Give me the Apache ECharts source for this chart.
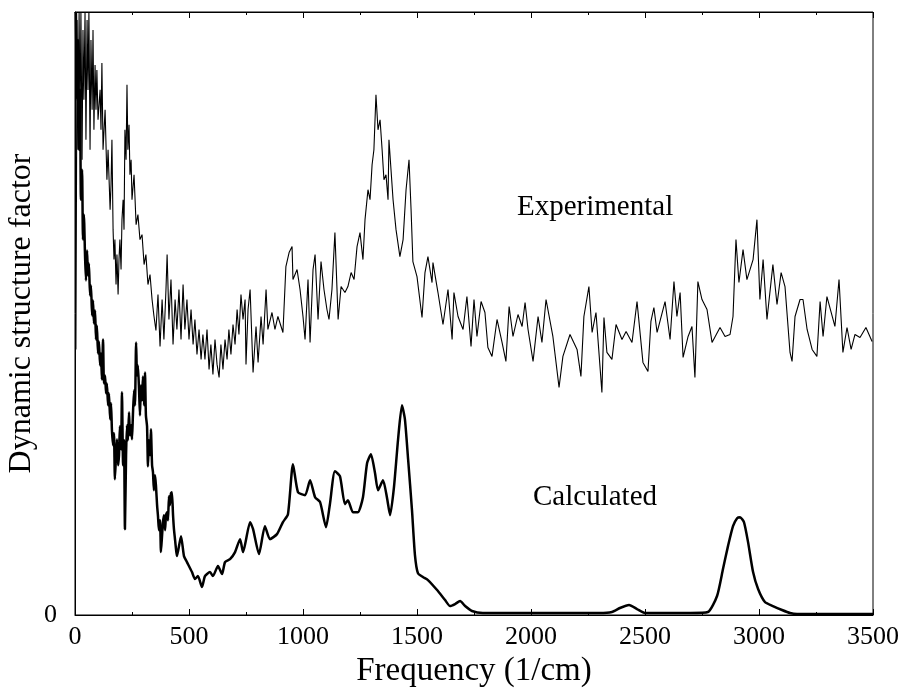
<!DOCTYPE html>
<html>
<head>
<meta charset="utf-8">
<script src="https://cdn.jsdelivr.net/npm/echarts@6/dist/echarts.min.js"></script>
<style>
  html, body { margin: 0; padding: 0; background: #fff; }
  #chart { width: 906px; height: 695px; }
</style>
</head>
<body>
<div id="chart"></div>
<script>
// frequency (1/cm), intensity (arbitrary units, 0 = baseline)
var experimental = [
  [4, 266], [9, 596], [13, 466], [18, 604], [22, 496], [26, 604], [31, 456], [35, 586],
  [39, 516], [44, 604], [48, 476], [53, 596], [57, 526], [61, 604], [66, 466], [70, 576],
  [75, 506], [79, 586], [83, 486], [88, 551], [92, 506], [96, 546], [101, 496], [110, 526],
  [114, 486], [118, 553], [123, 466], [132, 506], [140, 436], [145, 466], [154, 406], [158, 431],
  [162, 476], [167, 386], [171, 356], [175, 376], [180, 331], [184, 361], [189, 321], [193, 356],
  [197, 376], [202, 346], [206, 396], [211, 416], [215, 386], [219, 486], [224, 456], [228, 531],
  [232, 466], [237, 491], [241, 441], [246, 456], [250, 416], [259, 441], [268, 391], [276, 401],
  [285, 376], [294, 381], [303, 351], [311, 361], [320, 331], [329, 341], [338, 316], [346, 300],
  [355, 285], [364, 321], [373, 269], [382, 316], [390, 276], [399, 326], [404, 361], [412, 296],
  [421, 336], [430, 271], [439, 316], [447, 286], [456, 326], [465, 276], [474, 331], [482, 286],
  [491, 316], [500, 276], [509, 306], [518, 271], [526, 296], [535, 261], [544, 286], [553, 256],
  [561, 281], [570, 256], [579, 286], [588, 246], [596, 271], [605, 241], [614, 276], [623, 251],
  [632, 238], [640, 271], [649, 246], [658, 276], [667, 256], [675, 286], [684, 261], [693, 291],
  [702, 271], [711, 306], [719, 281], [728, 321], [737, 296], [746, 316], [750, 251], [759, 306],
  [768, 326], [781, 243], [794, 289], [803, 253], [816, 299], [825, 271], [838, 326], [846, 286],
  [864, 303], [877, 286], [890, 299], [908, 286], [912, 283], [925, 349], [939, 363], [952, 369],
  [956, 336], [974, 346], [987, 326], [1000, 299], [1009, 276], [1022, 336], [1031, 273], [1044, 346],
  [1053, 361], [1066, 296], [1079, 354], [1092, 326], [1105, 306], [1114, 296], [1127, 326], [1140, 383],
  [1154, 296], [1167, 329], [1184, 323], [1197, 329], [1211, 343], [1224, 336], [1237, 369], [1250, 383],
  [1263, 356], [1272, 396], [1285, 426], [1294, 416], [1303, 451], [1311, 466], [1320, 521], [1329, 486],
  [1338, 496], [1347, 466], [1355, 436], [1364, 441], [1373, 416], [1377, 476], [1386, 446], [1395, 416],
  [1408, 386], [1425, 359], [1439, 376], [1452, 426], [1465, 456], [1474, 406], [1482, 354], [1500, 339],
  [1522, 298], [1535, 343], [1548, 359], [1566, 333], [1570, 353], [1592, 323], [1614, 291], [1636, 326],
  [1654, 276], [1662, 323], [1680, 299], [1702, 286], [1719, 319], [1737, 269], [1750, 316], [1763, 279],
  [1781, 314], [1798, 303], [1811, 268], [1829, 259], [1851, 296], [1873, 273], [1890, 254], [1904, 309],
  [1921, 279], [1943, 301], [1961, 289], [1974, 313], [1987, 286], [2009, 254], [2031, 299], [2048, 273],
  [2066, 316], [2096, 279], [2123, 228], [2140, 259], [2171, 281], [2202, 266], [2219, 239], [2232, 299],
  [2254, 329], [2268, 283], [2285, 303], [2311, 223], [2320, 298], [2333, 263], [2355, 256], [2373, 291],
  [2399, 276], [2417, 284], [2443, 273], [2465, 314], [2491, 253], [2513, 244], [2526, 294], [2539, 308],
  [2553, 283], [2588, 314], [2610, 276], [2627, 334], [2640, 299], [2654, 323], [2667, 258], [2689, 279],
  [2706, 289], [2719, 238], [2732, 334], [2750, 316], [2772, 306], [2794, 273], [2829, 288], [2851, 279],
  [2873, 281], [2886, 299], [2899, 376], [2912, 333], [2930, 366], [2947, 336], [2974, 356], [2991, 396],
  [3004, 316], [3018, 356], [3035, 296], [3061, 351], [3079, 311], [3097, 343], [3114, 329], [3136, 263],
  [3145, 254], [3158, 299], [3180, 316], [3193, 316], [3211, 286], [3233, 266], [3254, 259], [3268, 314],
  [3281, 279], [3298, 319], [3333, 289], [3351, 336], [3368, 263], [3386, 288], [3404, 266], [3421, 281],
  [3443, 278], [3469, 288], [3496, 274]
];

var calculated = [
  [4, 604], [9, 516], [13, 576], [18, 466], [22, 526], [26, 416], [31, 446], [35, 376],
  [39, 401], [44, 360], [48, 335], [53, 365], [57, 340], [61, 352], [66, 320], [70, 330],
  [75, 300], [79, 315], [83, 292], [88, 305], [92, 276], [96, 290], [101, 262], [105, 274],
  [110, 250], [114, 262], [118, 236], [123, 276], [127, 232], [132, 240], [136, 222], [140, 232],
  [145, 210], [149, 222], [154, 196], [158, 212], [162, 185], [167, 170], [171, 182], [175, 136],
  [180, 160], [184, 176], [189, 150], [193, 160], [197, 189], [202, 166], [206, 223], [211, 150],
  [215, 175], [219, 86], [224, 160], [228, 190], [232, 175], [237, 203], [241, 180], [246, 190],
  [250, 176], [254, 200], [259, 225], [263, 210], [268, 273], [272, 240], [276, 250], [281, 225],
  [285, 200], [289, 230], [294, 215], [298, 239], [303, 210], [307, 243], [311, 200], [316, 189],
  [320, 149], [324, 175], [329, 160], [333, 186], [338, 150], [342, 143], [346, 125], [351, 140],
  [355, 130], [360, 110], [364, 99], [368, 85], [373, 95], [377, 63], [382, 80], [386, 93],
  [390, 100], [395, 85], [399, 100], [404, 103], [408, 95], [412, 119], [416, 110], [421, 122],
  [425, 123], [430, 100], [434, 86], [439, 75], [443, 66], [447, 59], [465, 79], [478, 59],
  [491, 53], [513, 43], [526, 36], [539, 39], [557, 28], [570, 39], [592, 43], [605, 39],
  [627, 49], [645, 41], [658, 53], [680, 56], [702, 63], [724, 76], [737, 63], [768, 93],
  [781, 86], [807, 61], [833, 89], [855, 76], [886, 81], [912, 93], [934, 101], [956, 151],
  [978, 123], [1009, 120], [1031, 135], [1053, 118], [1075, 113], [1101, 88], [1118, 111], [1140, 144],
  [1162, 139], [1184, 111], [1197, 115], [1219, 103], [1241, 103], [1263, 118], [1281, 152], [1298, 161],
  [1316, 142], [1329, 125], [1351, 135], [1368, 118], [1382, 100], [1399, 128], [1417, 176], [1434, 210],
  [1447, 196], [1461, 156], [1478, 105], [1491, 60], [1504, 42], [1526, 38], [1548, 35], [1588, 25],
  [1623, 15], [1645, 9], [1667, 11], [1689, 14], [1711, 9], [1741, 4], [1789, 2], [2000, 2],
  [2300, 2], [2355, 3], [2390, 7], [2430, 10], [2465, 6], [2500, 2], [2700, 2], [2776, 3],
  [2816, 19], [2842, 46], [2864, 69], [2886, 89], [2904, 97], [2917, 98], [2934, 93], [2952, 73],
  [2974, 43], [2996, 26], [3026, 13], [3061, 9], [3101, 5], [3136, 2], [3167, 1], [3500, 1]
];

var curveLabels = ['Experimental', 'Calculated'];
var xName = 'Frequency (1/cm)';
var yName = 'Dynamic structure factor';

var serif = 'Liberation Serif';
var chart = echarts.init(document.getElementById('chart'));

var tickStyle = {
  axisLine: { show: true, lineStyle: { color: '#000', width: 1 } },
  axisTick: { show: true, inside: true, length: 6, lineStyle: { color: '#000' } },
  minorTick: { show: true, splitNumber: 2, length: 3, lineStyle: { color: '#000' } },
  splitLine: { show: false }
};

var option = {
  backgroundColor: '#fff',
  animation: false,
  grid: {
    left: 75, right: 33, top: 12, bottom: 80,
    containLabel: false, outerBoundsMode: 'none',
    show: true, borderColor: '#000', borderWidth: 1
  },
  xAxis: [Object.assign({
    type: 'value', min: 0, max: 3500, interval: 500,
    name: xName, nameLocation: 'middle', nameGap: 23,
    nameTextStyle: { fontFamily: serif, fontSize: 33, color: '#000' },
    axisLabel: {
      fontFamily: serif, fontSize: 26, color: '#000', margin: 9,
      formatter: function (v) { return String(v); }
    }
  }, tickStyle), Object.assign({
    type: 'value', min: 0, max: 3500, interval: 500, position: 'top',
    axisLabel: { show: false }
  }, tickStyle)],
  yAxis: {
    type: 'value', min: 0, max: 604, interval: 604,
    name: yName, nameLocation: 'middle', nameGap: 37, nameRotate: 90,
    nameMoveOverlap: false,
    nameTextStyle: { fontFamily: serif, fontSize: 32, color: '#000' },
    axisLine: { show: true, lineStyle: { color: '#000', width: 1 } },
    axisTick: { show: false },
    axisLabel: {
      fontFamily: serif, fontSize: 26, color: '#000', margin: 18,
      formatter: function (v) { return v === 0 ? '0' : ''; }
    },
    splitLine: { show: false }
  },
  graphic: [
    { type: 'text', left: 517, top: 193, style: { text: curveLabels[0], fontFamily: serif, fontSize: 29, fill: '#000' } },
    { type: 'text', left: 533, top: 483, style: { text: curveLabels[1], fontFamily: serif, fontSize: 29, fill: '#000' } }
  ],
  series: [{
    name: curveLabels[0], type: 'line', data: experimental,
    showSymbol: false, clip: true,
    lineStyle: { color: '#000', width: 1.1 }
  }, {
    name: curveLabels[1], type: 'line', data: calculated,
    showSymbol: false, clip: true, smooth: 0.2,
    lineStyle: { color: '#000', width: 2.5 }
  }]
};

chart.setOption(option);
</script>
</body>
</html>
